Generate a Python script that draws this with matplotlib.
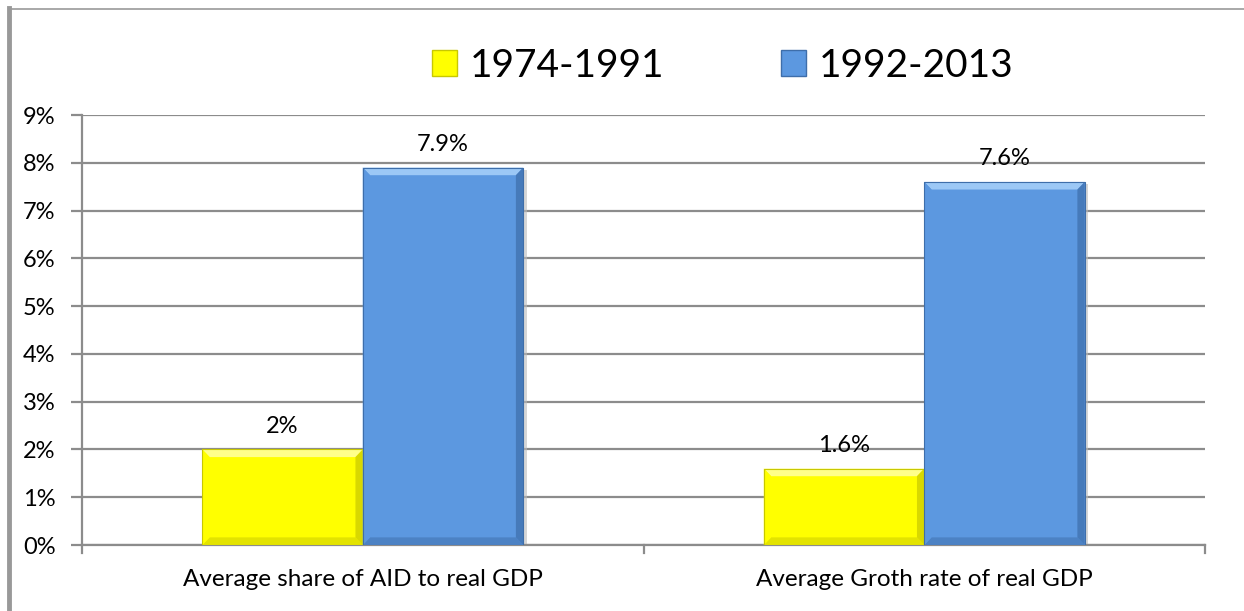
import matplotlib.pyplot as plt
import matplotlib.patches as mpatches
from matplotlib.lines import Line2D
import numpy as np

plt.rcParams['font.family'] = ['Lato', 'DejaVu Sans']

categories = ['Average share of AID to real GDP', 'Average Groth rate of real GDP']
periods = ['1974-1991', '1992-2013']
values_early = [2.0, 1.6]
values_late = [7.9, 7.6]
labels_early = ['2%', '1.6%']
labels_late = ['7.9%', '7.6%']

# face, light bevel, dark bevel
colours = {
    '1974-1991': ('#FFFF00', '#FFFF8A', '#C8C800'),
    '1992-2013': ('#5C98E0', '#9CC8F6', '#3E6EAA'),
}

fig = plt.figure(figsize=(12.44, 6.11), dpi=100)
ax = fig.add_axes([82 / 1244, 1 - 545 / 611, (1205 - 82) / 1244, (545 - 115) / 611])

bar_w = 1 / 3.5
x = np.arange(len(categories))


def bevel_bar(ax, xc, h, w, cols):
    face, light, dark = cols
    left, right = xc - w / 2, xc + w / 2
    # shadow
    ax.add_patch(mpatches.Rectangle((left + 0.006, 0), w, h - 0.05, color='#bbbbbb',
                                    alpha=0.6, zorder=2, lw=0))
    ax.add_patch(mpatches.Rectangle((left, 0), w, h, facecolor=face, lw=0, zorder=3))
    bx, by = 0.013, 0.16
    top = [(left, h), (right, h), (right - bx, h - by), (left + bx, h - by)]
    bottom = [(left, 0), (right, 0), (right - bx, by), (left + bx, by)]
    lside = [(left, 0), (left, h), (left + bx, h - by), (left + bx, by)]
    rside = [(right, 0), (right, h), (right - bx, h - by), (right - bx, by)]
    ax.add_patch(mpatches.Polygon(top, facecolor=light, lw=0, zorder=4))
    ax.add_patch(mpatches.Polygon(bottom, facecolor=dark, lw=0, zorder=4, alpha=0.5))
    ax.add_patch(mpatches.Polygon(lside, facecolor=face, lw=0, zorder=4))
    ax.add_patch(mpatches.Polygon(rside, facecolor=dark, lw=0, zorder=4, alpha=0.7))
    ax.plot([left, right, right, left, left], [0, 0, h, h, 0], color=dark, lw=0.8, zorder=5)


for i in x:
    xe = i - bar_w / 2
    xl = i + bar_w / 2
    bevel_bar(ax, xe, values_early[i], bar_w, colours['1974-1991'])
    bevel_bar(ax, xl, values_late[i], bar_w, colours['1992-2013'])
    ax.annotate(labels_early[i], (xe, values_early[i]), xytext=(0, 9), textcoords='offset points',
                ha='center', va='bottom', fontsize=17)
    ax.annotate(labels_late[i], (xl, values_late[i]), xytext=(0, 9), textcoords='offset points',
                ha='center', va='bottom', fontsize=17)

ax.set_xlim(-0.5, 1.5)
ax.set_ylim(0, 9)
ax.set_yticks(range(10))
ax.set_yticklabels([f'{v}%' for v in range(10)], fontsize=17)
ax.yaxis.grid(True, color='#8c8c8c', lw=1.6)
ax.set_axisbelow(True)

ax.set_xticks(x)
ax.set_xticklabels(categories, fontsize=17.5)
ax.tick_params(axis='x', length=0, pad=17)
ax.tick_params(axis='y', length=8, width=1.6, color='#8c8c8c', pad=11)
for b in [-0.5, 0.5, 1.5]:
    ax.plot([b, b], [0, -0.17], color='#8c8c8c', lw=1.6, clip_on=False, zorder=1)

for side in ['top', 'right']:
    ax.spines[side].set_visible(False)
for side in ['left', 'bottom']:
    ax.spines[side].set_color('#8c8c8c')
    ax.spines[side].set_linewidth(1.6)

handles = [mpatches.Patch(facecolor=colours[p][0], edgecolor=colours[p][2], lw=1) for p in periods]
fig.legend(handles, periods, loc='center', bbox_to_anchor=(0.581, 1 - 66 / 611), ncol=2,
           frameon=False, fontsize=28, handlelength=0.64, handleheight=0.64,
           handletextpad=0.33, columnspacing=3.0)

# outer frame of the figure
fig.add_artist(Line2D([9 / 1244, 9 / 1244], [0, 1 - 8 / 611], color='#999999', lw=3.5))
fig.add_artist(Line2D([9 / 1244, 1], [1 - 9 / 611, 1 - 9 / 611], color='#999999', lw=1.2))

fig.savefig('out.png', dpi=100)
